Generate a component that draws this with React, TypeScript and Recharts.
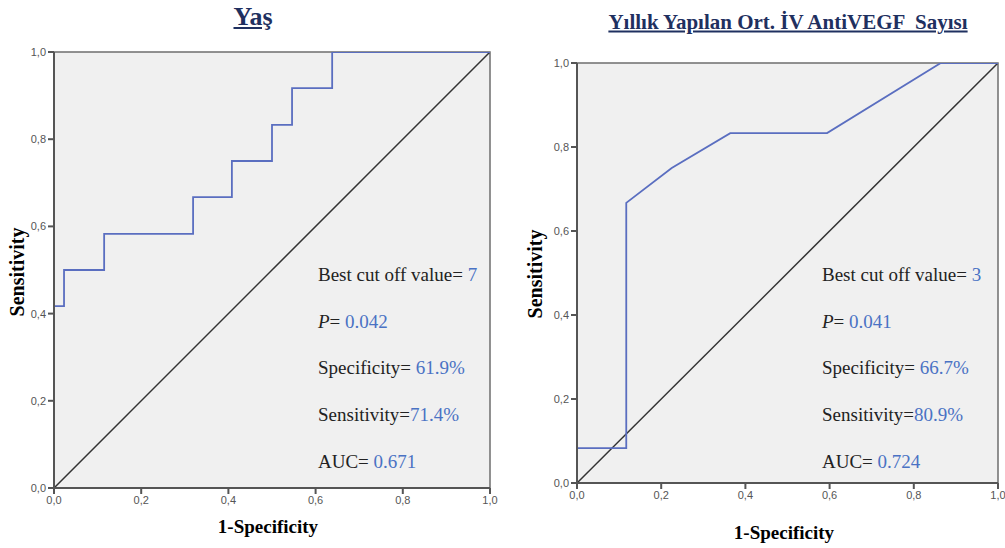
import React from "react";
import {
  LineChart,
  Line,
  XAxis,
  YAxis,
  CartesianGrid,
  ReferenceArea,
} from "recharts";

// ROC points
const yasFpr = [0, 0, 0.023, 0.115, 0.319, 0.408, 0.5, 0.546, 0.638, 1];
const yasTpr = [0, 0.417, 0.5, 0.583, 0.667, 0.75, 0.833, 0.917, 1, 1];

const ivFpr = [0, 0, 0.117, 0.117, 0.225, 0.364, 0.594, 0.864, 1];
const ivTpr = [0, 0.083, 0.083, 0.667, 0.75, 0.833, 0.833, 1, 1];

const refFpr = [0, 1];
const refTpr = [0, 1];

const ticks = [0, 0.2, 0.4, 0.6, 0.8, 1];

const yasStats = [
  ["Best cut off value= ", "7"],
  ["P", "= ", "0.042"],
  ["Specificity= ", "61.9%"],
  ["Sensitivity=", "71.4%"],
  ["AUC= ", "0.671"],
];
const ivStats = [
  ["Best cut off value= ", "3"],
  ["P", "= ", "0.041"],
  ["Specificity= ", "66.7%"],
  ["Sensitivity=", "80.9%"],
  ["AUC= ", "0.724"],
];

const toRows = (xs: number[], ys: number[]) =>
  xs.map((x, i) => ({ fpr: x, tpr: ys[i] }));

const serif = "'Liberation Serif', 'Times New Roman', serif";
const sans = "'Liberation Sans', Arial, sans-serif";
const blue = "#4a72c4";
const curve = "#5a6ec0";

const fmt = (v: number) => v.toFixed(1).replace(".", ",");
const tickStyle = { fontSize: 11, fill: "#555", fontFamily: sans };

const RocChart = (props: any) => {
  const { rows, step, margin } = props;
  return (
    <LineChart width={500} height={548} margin={margin}>
      <CartesianGrid fill="#f0f0f0" horizontal={false} vertical={false} />
      <XAxis
        type="number"
        dataKey="fpr"
        domain={[0, 1]}
        ticks={ticks}
        tickFormatter={fmt}
        tick={tickStyle}
        stroke="#555"
        strokeWidth={2}
        height={30}
        allowDataOverflow
      />
      <YAxis
        type="number"
        dataKey="tpr"
        domain={[0, 1]}
        ticks={ticks}
        tickFormatter={fmt}
        tick={tickStyle}
        stroke="#555"
        strokeWidth={2}
        width={44}
        allowDataOverflow
      />
      <ReferenceArea
        x1={0}
        x2={1}
        y1={0}
        y2={1}
        fill="none"
        stroke="#6e6e6e"
        strokeWidth={1.5}
      />
      <Line
        data={toRows(refFpr, refTpr)}
        dataKey="tpr"
        type="linear"
        stroke="#333"
        strokeWidth={1.5}
        dot={false}
        isAnimationActive={false}
      />
      <Line
        data={rows}
        dataKey="tpr"
        type={step ? "stepAfter" : "linear"}
        stroke={curve}
        strokeWidth={1.8}
        dot={false}
        isAnimationActive={false}
      />
    </LineChart>
  );
};

const Stats = (props: any) => {
  const { items, left } = props;
  const tops = [275, 322, 368, 415, 462];
  return (
    <>
      {items.map((it: string[], i: number) => (
        <div
          key={i}
          style={{
            position: "absolute",
            left,
            top: tops[i] - 12,
            fontFamily: serif,
            fontSize: 19,
            color: "#222",
            whiteSpace: "pre",
            lineHeight: "24px",
          }}
        >
          {it.length === 3 ? (
            <>
              <i>{it[0]}</i>
              {it[1]}
              <span style={{ color: blue }}>{it[2]}</span>
            </>
          ) : (
            <>
              {it[0]}
              <span style={{ color: blue }}>{it[1]}</span>
            </>
          )}
        </div>
      ))}
    </>
  );
};

const centered = (x: number, y: number, extra: any) => ({
  position: "absolute" as const,
  left: x,
  top: y,
  transform: "translate(-50%, -50%)",
  whiteSpace: "pre" as const,
  fontFamily: serif,
  lineHeight: 1,
  ...extra,
});

export default function App() {
  return (
    <div
      style={{
        position: "absolute",
        left: 0,
        top: 0,
        width: 1005,
        height: 548,
        background: "#fff",
        overflow: "hidden",
      }}
    >
      <div style={{ position: "absolute", left: 0, top: 0 }}>
        <RocChart
          rows={toRows(yasFpr, yasTpr)}
          step
          margin={{ top: 52, right: 10, bottom: 30, left: 10 }}
        />
      </div>
      <div style={{ position: "absolute", left: 505, top: 0 }}>
        <RocChart
          rows={toRows(ivFpr, ivTpr)}
          step={false}
          margin={{ top: 63, right: 7, bottom: 35, left: 28 }}
        />
      </div>

      <div
        style={centered(253, 17, {
          fontSize: 26,
          fontWeight: "bold",
          textDecoration: "underline",
          color: "#1f3060",
        })}
      >
        Yaş
      </div>
      <div
        style={centered(788, 22, {
          fontSize: 21,
          fontWeight: "bold",
          textDecoration: "underline",
          color: "#1f3060",
        })}
      >
        {"Yıllık Yapılan Ort. İV AntiVEGF  Sayısı"}
      </div>

      <div style={centered(17, 272, { fontSize: 20, fontWeight: "bold", transform: "translate(-50%, -50%) rotate(-90deg)" })}>
        Sensitivity
      </div>
      <div style={centered(535, 274, { fontSize: 20, fontWeight: "bold", transform: "translate(-50%, -50%) rotate(-90deg)" })}>
        Sensitivity
      </div>
      <div style={centered(268, 526, { fontSize: 19, fontWeight: "bold" })}>1-Specificity</div>
      <div style={centered(784, 532, { fontSize: 19, fontWeight: "bold" })}>1-Specificity</div>

      <Stats items={yasStats} left={318} />
      <Stats items={ivStats} left={822} />
    </div>
  );
}
